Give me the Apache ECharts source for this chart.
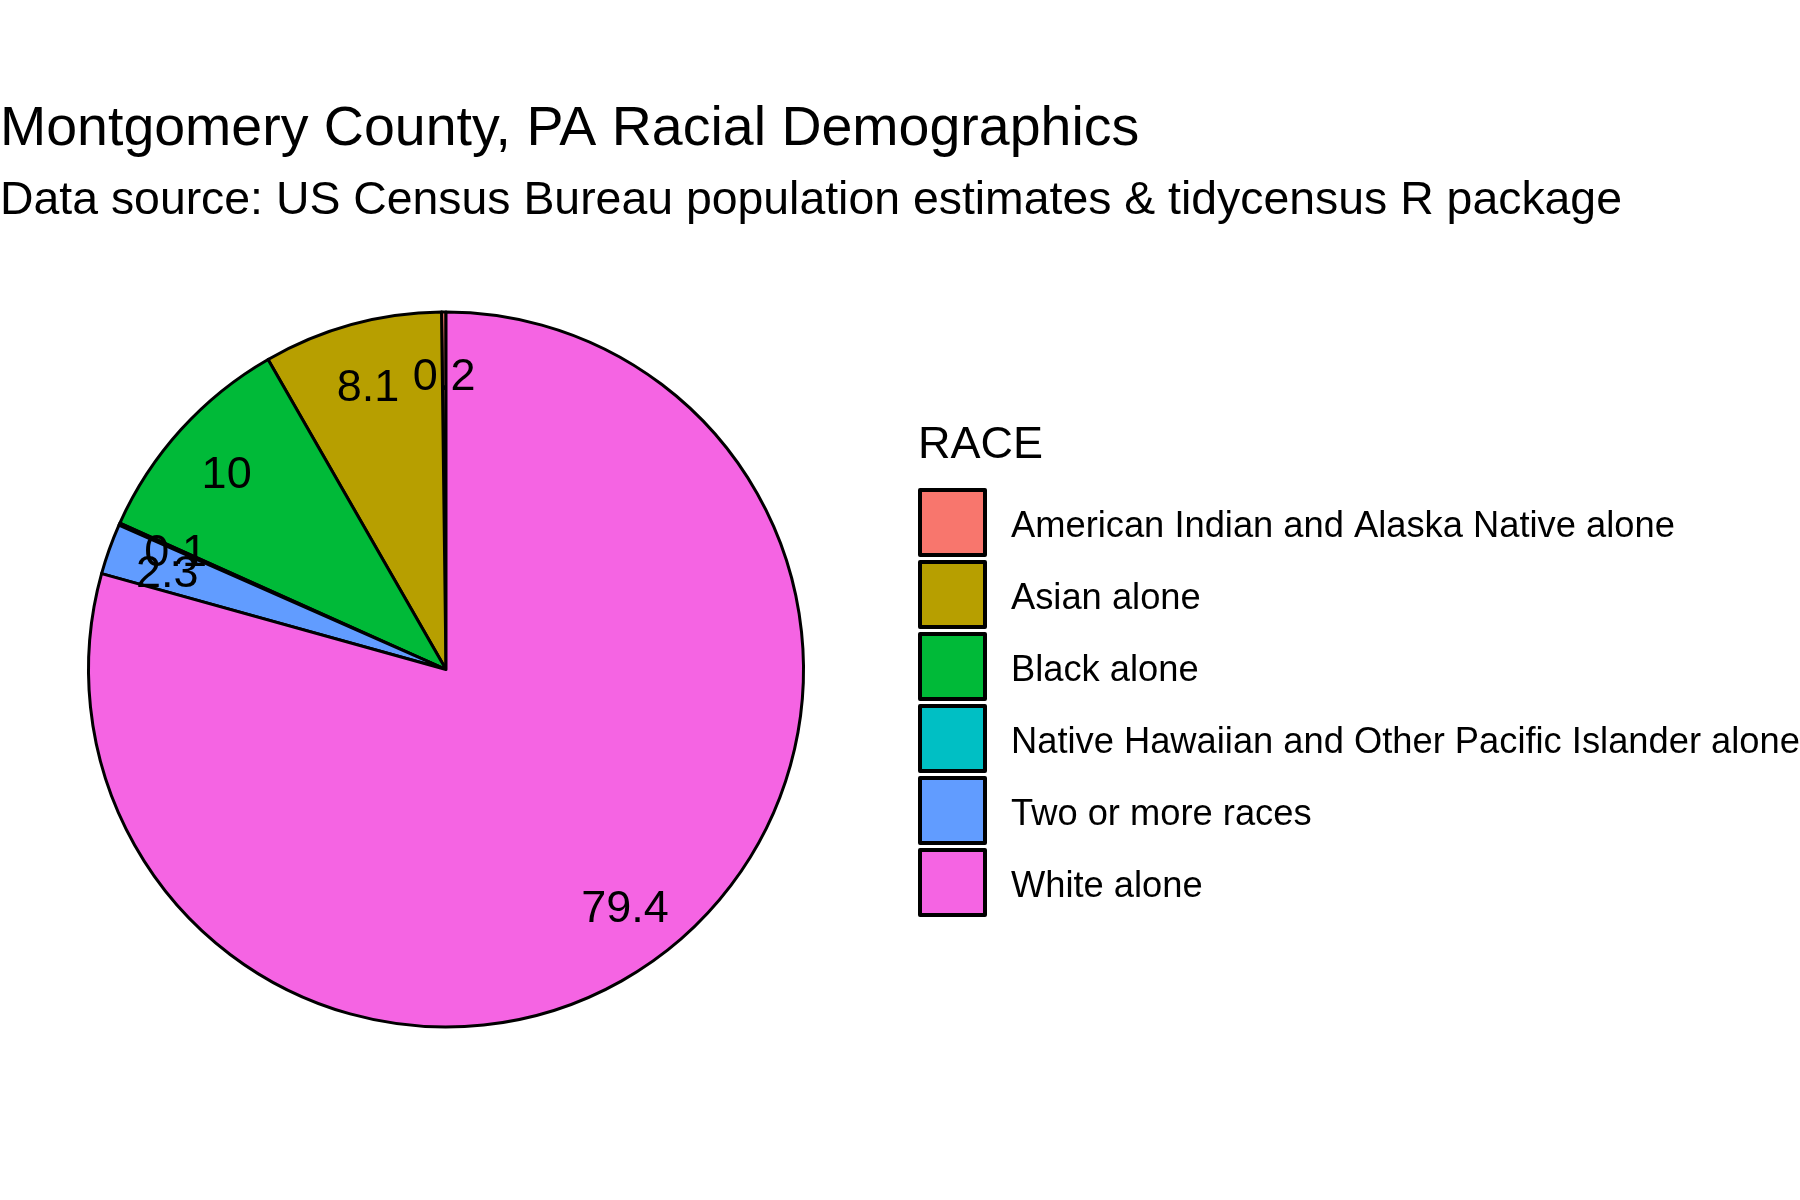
<!DOCTYPE html>
<html>
<head>
<meta charset="utf-8">
<script src="https://cdn.jsdelivr.net/npm/echarts@6/dist/echarts.min.js"></script>
<style>
  html, body { margin: 0; padding: 0; background: #ffffff; }
  #chart { width: 1800px; height: 1200px; }
</style>
</head>
<body>
<div id="chart"></div>
<script>
const categories = [
  'American Indian and Alaska Native alone',
  'Asian alone',
  'Black alone',
  'Native Hawaiian and Other Pacific Islander alone',
  'Two or more races',
  'White alone'
];
const percents = [0.2, 8.1, 10, 0.1, 2.3, 79.4];
const colors = ['#F8766D', '#B79F00', '#00BA38', '#00BFC4', '#619CFF', '#F564E3'];

const FONT = 'Liberation Sans, Arial, sans-serif';
const CX = 446, CY = 669.5, R = 357.5;

const pieData = categories.map((name, i) => ({
  name: name,
  value: percents[i],
  itemStyle: { color: colors[i] }
}));
const labelData = categories.map((name, i) => ({
  name: name,
  value: percents[i]
}));

const chart = echarts.init(document.getElementById('chart'), null, { renderer: 'canvas' });
chart.setOption({
  backgroundColor: '#ffffff',
  animation: false,
  title: [
    {
      text: 'Montgomery County, PA Racial Demographics',
      left: 0, top: 102, padding: 0,
      textStyle: { fontFamily: FONT, fontSize: 55.5, fontWeight: 'normal', color: '#000000' }
    },
    {
      text: 'Data source: US Census Bureau population estimates & tidycensus R package',
      left: 0, top: 178.5, padding: 0,
      textStyle: { fontFamily: FONT, fontSize: 46.4, fontWeight: 'normal', color: '#000000' }
    },
    {
      text: 'RACE',
      left: 918, top: 423, padding: 0,
      textStyle: { fontFamily: FONT, fontSize: 45, fontWeight: 'normal', color: '#000000' }
    }
  ],
  legend: {
    orient: 'vertical',
    left: 918,
    top: 488,
    padding: 0,
    itemWidth: 65,
    itemHeight: 65,
    itemGap: 3,
    icon: 'rect',
    selectedMode: false,
    data: categories,
    itemStyle: { borderColor: '#000000', borderWidth: 4 },
    formatter: name => '{t|' + name + '}',
    textStyle: {
      fontFamily: FONT, fontSize: 36.3, color: '#000000', padding: [0, 0, 0, 21],
      rich: { t: { fontFamily: FONT, fontSize: 36.3, color: '#000000', padding: [8, 0, 0, 0] } }
    }
  },
  series: [
    {
      type: 'pie',
      center: [CX, CY],
      radius: [0, R],
      startAngle: 90,
      clockwise: false,
      silent: true,
      avoidLabelOverlap: false,
      label: { show: false },
      labelLine: { show: false },
      itemStyle: { borderColor: '#000000', borderWidth: 3 },
      emphasis: { disabled: true },
      data: pieData
    },
    {
      type: 'pie',
      center: [CX, CY],
      radius: [R * 0.639, R],
      startAngle: 90,
      clockwise: false,
      silent: true,
      avoidLabelOverlap: false,
      minShowLabelAngle: 0,
      labelLayout: { hideOverlap: false },
      itemStyle: { color: 'rgba(0,0,0,0)', borderWidth: 0 },
      label: {
        show: true,
        position: 'inside',
        formatter: '{v|{c}}',
        fontFamily: FONT,
        fontSize: 45,
        color: '#000000',
        rich: { v: { fontFamily: FONT, fontSize: 45, color: '#000000', padding: [9, 0, 0, 0] } }
      },
      labelLine: { show: false },
      emphasis: { disabled: true },
      data: labelData
    }
  ]
});
</script>
</body>
</html>
